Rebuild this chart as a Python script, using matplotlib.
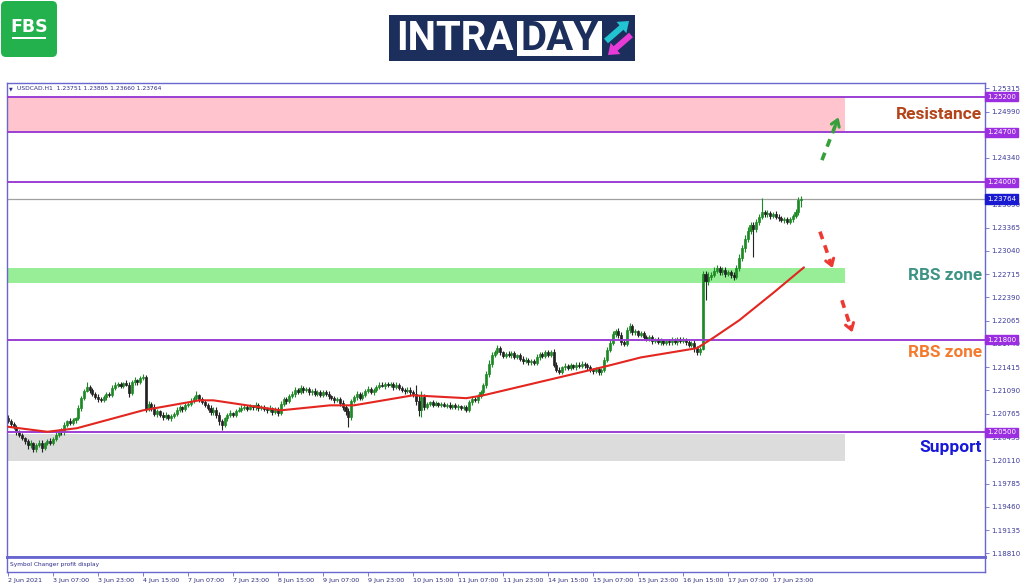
import matplotlib
matplotlib.use('Agg')
import matplotlib.pyplot as plt
from matplotlib.patches import Rectangle, FancyBboxPatch, FancyArrow
import numpy as np

W, H, DPI = 1024, 587, 100

# ---------------- data ----------------
first_open = 1.2070
closes = [
    1.2066, 1.2062, 1.2058, 1.2050, 1.2046, 1.2042, 1.2038, 1.2032, 1.2035, 1.2027,
    1.2033, 1.2036, 1.2029, 1.2035, 1.2038, 1.2036, 1.2041, 1.2047, 1.2052, 1.2050,
    1.2061, 1.2066, 1.2063, 1.2067, 1.2070, 1.2084, 1.2098, 1.2108, 1.2114, 1.2109,
    1.2104, 1.2100, 1.2097, 1.2095, 1.2100, 1.2104, 1.2103, 1.2112, 1.2117, 1.2118,
    1.2115, 1.2119, 1.2117, 1.2105, 1.2120, 1.2123, 1.2121, 1.2126, 1.2128, 1.2083,
    1.2090, 1.2085, 1.2076, 1.2080, 1.2075, 1.2072, 1.2074, 1.2070, 1.2073, 1.2076,
    1.2082, 1.2085, 1.2083, 1.2088, 1.2090, 1.2094, 1.2098, 1.2102, 1.2097, 1.2093,
    1.2089, 1.2084, 1.2078, 1.2082, 1.2074, 1.2066, 1.2060, 1.2070, 1.2074, 1.2077,
    1.2075, 1.2080, 1.2082, 1.2084, 1.2086, 1.2083, 1.2087, 1.2085, 1.2088, 1.2084,
    1.2086, 1.2083, 1.2081, 1.2084, 1.2079, 1.2082, 1.2077, 1.2090, 1.2097, 1.2094,
    1.2101, 1.2104, 1.2110, 1.2107, 1.2112, 1.2109, 1.2111, 1.2106, 1.2108, 1.2104,
    1.2107, 1.2103, 1.2106, 1.2104, 1.2101, 1.2098, 1.2095, 1.2097, 1.2091, 1.2086,
    1.2080, 1.2072, 1.2094, 1.2100, 1.2104, 1.2098, 1.2103, 1.2108, 1.2111, 1.2107,
    1.2110, 1.2114, 1.2117, 1.2115, 1.2118, 1.2116, 1.2118, 1.2114, 1.2116, 1.2112,
    1.2110, 1.2108, 1.2110, 1.2106, 1.2104, 1.2094, 1.2081, 1.2100, 1.2086, 1.2090,
    1.2092, 1.2089, 1.2091, 1.2088, 1.2090, 1.2087, 1.2089, 1.2086, 1.2088, 1.2085,
    1.2087, 1.2084, 1.2086, 1.2082, 1.2092, 1.2097, 1.2095, 1.2101, 1.2106, 1.2116,
    1.2132, 1.2146, 1.2158, 1.2163, 1.2168, 1.2162, 1.2157, 1.2160, 1.2158, 1.2161,
    1.2156, 1.2158, 1.2153, 1.2150, 1.2152, 1.2148, 1.2150, 1.2147, 1.2156, 1.2160,
    1.2157, 1.2162, 1.2159, 1.2163, 1.2145, 1.2138, 1.2135, 1.2141, 1.2143, 1.2140,
    1.2144, 1.2142, 1.2145, 1.2143, 1.2146, 1.2144, 1.2141, 1.2138, 1.2136, 1.2139,
    1.2134, 1.2137, 1.2152, 1.2166, 1.2175, 1.2188, 1.2192, 1.2186, 1.2177, 1.2174,
    1.2193, 1.2199, 1.2190, 1.2192, 1.2187, 1.2189, 1.2184, 1.2181, 1.2183, 1.2178,
    1.2180, 1.2177, 1.2179, 1.2175, 1.2178, 1.2176, 1.2180, 1.2177, 1.2181, 1.2178,
    1.2180, 1.2176, 1.2173, 1.2175, 1.2168, 1.2163, 1.2167, 1.2272, 1.2262, 1.2268,
    1.2271, 1.2276, 1.2280, 1.2274, 1.2278, 1.2272, 1.2275, 1.2270, 1.2268, 1.2280,
    1.2294, 1.2308, 1.2320, 1.2332, 1.2340, 1.2334, 1.2345, 1.2352, 1.2358, 1.2355,
    1.2357, 1.2353, 1.2356, 1.2352, 1.2350, 1.2347, 1.2349, 1.2345, 1.2348, 1.2353,
    1.2358, 1.2375, 1.23764,
]
upper_wick_pips = [
    4, 3, 3, 2, 4, 3, 2, 3, 4, 2,  3, 4, 3, 2, 3, 4, 2, 3, 3, 4,
    3, 2, 4, 3, 2, 4, 3, 3, 6, 2,  3, 2, 4, 3, 3, 2, 3, 4, 3, 2,
    3, 2, 4, 3, 3, 4, 2, 3, 4, 3,  4, 3, 5, 3, 2, 3, 4, 2, 3, 3,
    3, 4, 2, 3, 3, 4, 3, 6, 2, 3,  3, 2, 4, 3, 3, 4, 3, 2, 3, 4,
    2, 3, 3, 4, 2, 3, 3, 2, 4, 3,  2, 3, 3, 4, 2, 3, 3, 4, 3, 2,
    3, 4, 3, 2, 4, 3, 3, 2, 3, 4,  3, 2, 3, 3, 4, 2, 3, 3, 2, 4,
    3, 4, 3, 3, 4, 2, 3, 3, 4, 3,  2, 3, 3, 4, 2, 3, 3, 2, 4, 3,
    3, 2, 4, 3, 3, 12, 8, 8, 4, 3, 2, 3, 3, 2, 3, 3, 2, 3, 2, 3,
    3, 2, 3, 3, 3, 4, 3, 3, 4, 3,  4, 5, 4, 3, 4, 3, 2, 3, 4, 3,
    3, 2, 3, 4, 3, 2, 3, 3, 4, 3,  3, 4, 3, 3, 4, 3, 3, 2, 4, 3,
    3, 2, 3, 3, 4, 2, 3, 3, 2, 3,  3, 3, 4, 4, 5, 4, 3, 4, 4, 3,
    4, 4, 3, 3, 2, 3, 3, 2, 3, 3,  2, 3, 3, 2, 3, 3, 3, 2, 3, 3,
    3, 2, 3, 3, 4, 3, 3, 4, 4, 6,  4, 5, 4, 3, 4, 3, 3, 3, 4, 5,
    5, 4, 6, 5, 4, 5, 4, 4, 20, 3, 4, 3, 3, 4, 3, 3, 3, 3, 4, 3,
    4, 4, 4,
]
lower_wick_pips = [
    3, 4, 3, 4, 3, 3, 4, 5, 3, 4,  4, 3, 6, 3, 2, 4, 3, 3, 4, 3,
    3, 4, 2, 3, 4, 3, 4, 3, 2, 4,  3, 3, 4, 3, 3, 4, 3, 3, 2, 4,
    3, 3, 2, 5, 3, 3, 4, 3, 3, 4,  3, 5, 3, 4, 3, 4, 3, 3, 4, 3,
    3, 3, 4, 3, 2, 3, 3, 2, 4, 3,  4, 3, 4, 3, 4, 5, 6, 3, 4, 3,
    3, 3, 2, 4, 3, 3, 2, 3, 3, 4,  3, 3, 4, 3, 4, 3, 4, 3, 3, 4,
    3, 3, 4, 3, 3, 4, 3, 3, 4, 3,  3, 4, 3, 3, 4, 3, 4, 3, 4, 4,
    5, 15, 4, 3, 4, 3, 3, 4, 3, 3, 4, 3, 3, 2, 4, 3, 3, 4, 3, 3,
    3, 4, 3, 3, 4, 5, 8, 10, 4, 3, 3, 3, 2, 3, 3, 2, 3, 3, 3, 2,
    3, 3, 3, 4, 3, 3, 3, 4, 3, 4,  4, 4, 4, 3, 3, 4, 3, 3, 3, 4,
    3, 3, 3, 4, 3, 3, 4, 3, 3, 4,  3, 3, 4, 3, 4, 4, 3, 3, 4, 3,
    3, 3, 4, 3, 3, 4, 3, 3, 4, 3,  4, 4, 3, 4, 4, 3, 4, 4, 4, 3,
    3, 4, 3, 4, 3, 3, 4, 3, 3, 4,  3, 3, 4, 3, 3, 4, 3, 3, 4, 3,
    3, 4, 3, 3, 5, 4, 5, 2, 27, 5, 4, 4, 3, 4, 4, 4, 3, 4, 4, 3,
    4, 4, 5, 4, 5, 39, 4, 5, 4, 4, 3, 4, 3, 4, 4, 3, 4, 3, 4, 4,
    3, 4, 9,
]
# moving average (red line), sampled at bar positions
ma_bars = [0, 14, 24.5, 48, 68, 73, 97, 114.5, 123, 144, 163, 169, 212, 225, 245, 251, 260, 272, 283]
ma_values = [1.2058, 1.2051, 1.2056, 1.2081, 1.2095, 1.2095, 1.2081, 1.2088, 1.2088, 1.2102,
             1.2098, 1.2102, 1.2142, 1.2155, 1.2168, 1.2183, 1.2207, 1.2245, 1.2281]

level_prices = [1.25200, 1.24700, 1.24000, 1.21800, 1.20500]
level_labels = ['1.25200', '1.24700', '1.24000', '1.21800', '1.20500']
current_price = 1.23764
current_label = '1.23764'

resistance_zone = (1.2470, 1.2520)
rbs_zone = (1.2259, 1.2280)
support_zone = (1.2010, 1.2048)

price_ticks = [1.25315, 1.24990, 1.24665, 1.24340, 1.24015, 1.23690, 1.23365, 1.23040,
               1.22715, 1.22390, 1.22065, 1.21740, 1.21415, 1.21090, 1.20765, 1.20435,
               1.20110, 1.19785, 1.19460, 1.19135, 1.18810]
# labels fully covered by the level tags are left blank
price_tick_labels = ['1.25315', '1.24990', '', '1.24340', '', '1.23690', '1.23365',
                     '1.23040', '1.22715', '1.22390', '1.22065', '1.21740', '1.21415', '1.21090',
                     '1.20765', '1.20435', '1.20110', '1.19785', '1.19460', '1.19135', '1.18810']
time_tick_bars = [0, 16, 32, 48, 64, 80, 96, 112, 128, 144, 160, 176, 192, 208, 224, 240, 256, 272]
time_tick_labels = ['2 Jun 2021', '3 Jun 07:00', '3 Jun 23:00', '4 Jun 15:00', '7 Jun 07:00',
                    '7 Jun 23:00', '8 Jun 15:00', '9 Jun 07:00', '9 Jun 23:00', '10 Jun 15:00',
                    '11 Jun 07:00', '11 Jun 23:00', '14 Jun 15:00', '15 Jun 07:00', '15 Jun 23:00',
                    '16 Jun 15:00', '17 Jun 07:00', '17 Jun 23:00']
header_text = 'USDCAD.H1  1.23751 1.23805 1.23660 1.23764'

# ---------------- styling ----------------
FRAME = '#6a66d0'
LEVEL = '#9b3fd4'
TAG = '#9a2ee0'
TAGBLUE = '#1a1ad0'
BULL = '#1e8a26'
BEAR = '#222222'
MA_C = '#e3261f'

fig = plt.figure(figsize=(W / DPI, H / DPI), dpi=DPI)
fig.patch.set_facecolor('white')


def px_rect(x0, y0, x1, y1):
    return [x0 / W, 1 - y1 / H, (x1 - x0) / W, (y1 - y0) / H]


AX_X0, AX_X1, AX_Y0, AX_Y1 = 7, 985, 83, 557
ax = fig.add_axes(px_rect(AX_X0, AX_Y0, AX_X1, AX_Y1))
BAR_PX = 2.8125
ax.set_xlim((AX_X0 - 8) / BAR_PX, (AX_X1 - 8) / BAR_PX)
PPX = 0.06505 / 465.0
ax.set_ylim(1.25315 - (AX_Y1 - 88.3) * PPX, 1.25315 + (88.3 - AX_Y0) * PPX)

for s in ax.spines.values():
    s.set_color(FRAME)
    s.set_linewidth(1.0)
ax.spines['bottom'].set_linewidth(2.0)

ax.set_xticks([])
ax.yaxis.tick_right()
ax.set_yticks(price_ticks)
ax.set_yticklabels(price_tick_labels)
ax.tick_params(axis='y', length=3, width=0.6, color=FRAME, pad=1.5,
               labelsize=5, labelcolor='#3b3b9a')

# zones
xf_end = (845 - AX_X0) / (AX_X1 - AX_X0)
xf_start = (8 - AX_X0) / (AX_X1 - AX_X0)
ax.axhspan(*resistance_zone, xmin=xf_start, xmax=xf_end, color='#ffc4cd', lw=0, zorder=0)
ax.axhspan(*rbs_zone, xmin=xf_start, xmax=xf_end, color='#97ee97', lw=0, zorder=0)
ax.axhspan(*support_zone, xmin=xf_start, xmax=xf_end, color='#dcdcdc', lw=0, zorder=0)

# candles
c = np.array(closes)
o = np.concatenate([[first_open], c[:-1]])
hi = np.maximum(o, c) + np.array(upper_wick_pips) * 1e-4
lo = np.minimum(o, c) - np.array(lower_wick_pips) * 1e-4
idx = np.arange(len(c))
up = c >= o
cols = np.where(up, BULL, BEAR)
ax.vlines(idx, lo, hi, colors=list(cols), lw=0.8, zorder=2)
ax.bar(idx[up], (c - o)[up], bottom=o[up], width=0.75, color=BULL, edgecolor=BULL, lw=0.5, zorder=2.1)
ax.bar(idx[~up], (o - c)[~up], bottom=c[~up], width=0.75, color=BEAR, edgecolor=BEAR, lw=0.5, zorder=2.1)

# current price line
ax.axhline(current_price, color='#a0a0a0', lw=0.9, zorder=1.5)
# level lines
for p in level_prices:
    ax.axhline(p, color=LEVEL, lw=1.4, zorder=3)

# moving average
ax.plot(ma_bars, ma_values, color=MA_C, lw=1.5, zorder=4, solid_capstyle='round',
        solid_joinstyle='round')

# price tags on axis
ytr = ax.get_yaxis_transform()
tag_x = (AX_X1 + 2 - AX_X0) / (AX_X1 - AX_X0)
for p, lab in zip(level_prices, level_labels):
    ax.text(tag_x, p, lab, transform=ytr, ha='left', va='center', fontsize=5, color='white',
            bbox=dict(boxstyle='square,pad=0.25', fc=TAG, ec=TAG), zorder=10, clip_on=False)
ax.text(tag_x, current_price, current_label, transform=ytr, ha='left', va='center', fontsize=5,
        color='white', bbox=dict(boxstyle='square,pad=0.25', fc=TAGBLUE, ec=TAGBLUE),
        zorder=10, clip_on=False)

# header text
ax.text((9 - AX_X0) / (AX_X1 - AX_X0), (AX_Y1 - 89) / (AX_Y1 - AX_Y0), '\u25BC',
        transform=ax.transAxes, fontsize=3.5, color='#2c2c8c', va='center', ha='left')
ax.text((17 - AX_X0) / (AX_X1 - AX_X0), (AX_Y1 - 89) / (AX_Y1 - AX_Y0), header_text,
        transform=ax.transAxes, fontsize=4.3, color='#2c2c8c', va='center', ha='left')

# zone annotations
tx = (982 - AX_X0) / (AX_X1 - AX_X0)
ann_font = dict(family='Roboto', weight='bold', ha='right', va='center', transform=ytr, zorder=11)
ax.text(tx, sum(resistance_zone) / 2, 'Resistance', fontsize=12.5, color='#b4441a', **ann_font)
ax.text(tx, sum(rbs_zone) / 2, 'RBS zone', fontsize=12.3, color='#3d9484', **ann_font)
ax.text(tx, 1.2162, 'RBS zone', fontsize=12.3, color='#f47a2e', **ann_font)
ax.text(tx, 1.2029, 'Support', fontsize=12.5, color='#1818d8', **ann_font)


# dashed arrows
def dashed_arrow(x0, y0, x1, y1, color):
    fx = x0 + (x1 - x0) * 0.82
    fy = y0 + (y1 - y0) * 0.82
    ax.plot([x0, fx], [y0, fy], color=color, lw=2.6, dashes=(2.2, 1.8), zorder=6, solid_capstyle='butt')
    ax.annotate('', xy=(x1, y1), xytext=(fx, fy),
                arrowprops=dict(arrowstyle='->,head_length=0.45,head_width=0.3', color=color, lw=2.2,
                                shrinkA=0, shrinkB=0), zorder=6)


dashed_arrow(289.4, 1.2431, 295.3, 1.2491, '#36a03a')
dashed_arrow(288.7, 1.2331, 293.2, 1.2280, '#ec3a33')
dashed_arrow(296.5, 1.2235, 300.2, 1.2190, '#ec3a33')

# bottom strip with time axis
ax2 = fig.add_axes(px_rect(AX_X0, AX_Y1, AX_X1, 572))
ax2.set_xlim(ax.get_xlim())
ax2.set_ylim(0, 1)
ax2.set_yticks([])
for s in ax2.spines.values():
    s.set_color(FRAME)
    s.set_linewidth(1.0)
ax2.spines['top'].set_linewidth(2.0)
ax2.text(0.003, 0.5, 'Symbol Changer profit display', transform=ax2.transAxes,
         fontsize=4.2, color='#2c2c8c', va='center', ha='left')
ax2.set_xticks(time_tick_bars)
ax2.set_xticklabels(time_tick_labels)
ax2.tick_params(axis='x', length=3, width=0.6, color=FRAME, pad=1.2, labelsize=4.6, labelcolor='#2c2c7c')
for lab in ax2.get_xticklabels():
    lab.set_ha('left')

# overlay for logos
ov = fig.add_axes([0, 0, 1, 1], zorder=20)
ov.set_xlim(0, W)
ov.set_ylim(H, 0)
ov.axis('off')

# FBS logo
ov.add_patch(FancyBboxPatch((1, 1), 56, 56, boxstyle='round,pad=0,rounding_size=5',
                            fc='#22b14c', ec='none'))
ov.text(29, 26.5, 'FBS', color='white', fontsize=12.5, fontweight='bold', ha='center', va='center',
        family='DejaVu Sans')
ov.add_patch(Rectangle((12, 36.5), 34, 2.6, fc='white', ec='none'))

# INTRADAY logo
NAVY = '#1c2f5c'
ov.add_patch(Rectangle((389, 15), 246, 46, fc=NAVY, ec='none'))
ov.add_patch(Rectangle((517, 20.5), 85, 35, fc='white', ec='none'))
ov.text(455, 38.5, 'INTRA', color='white', fontsize=29, fontweight='bold', family='Roboto',
        ha='center', va='center')
ov.text(559.5, 38.5, 'DAY', color=NAVY, fontsize=29, fontweight='bold', family='Roboto',
        ha='center', va='center')
ov.add_patch(FancyArrow(606, 41, 23, -20, width=6, head_width=15, head_length=10,
                        length_includes_head=True, fc='#22c4d2', ec='none'))
ov.add_patch(FancyArrow(631, 35, -23, 20, width=6, head_width=15, head_length=10,
                        length_includes_head=True, fc='#e83ad6', ec='none'))

fig.savefig('out.png', dpi=DPI, facecolor='white')
